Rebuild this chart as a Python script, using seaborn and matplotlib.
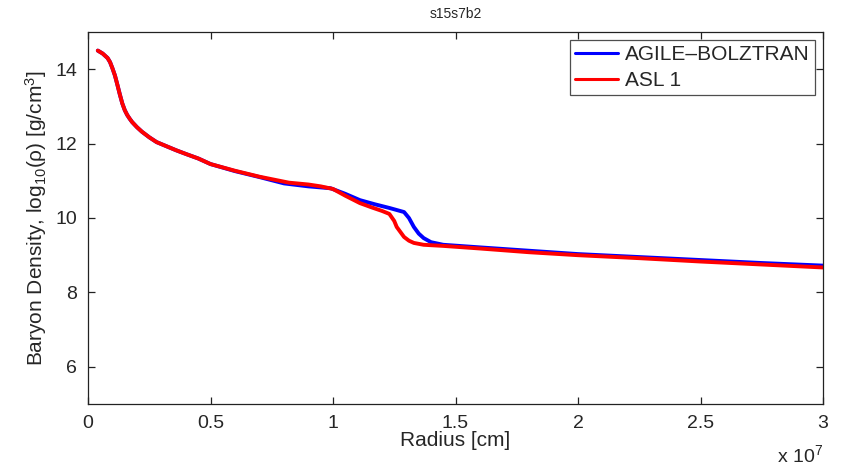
import matplotlib
matplotlib.use("Agg")
import matplotlib.pyplot as plt
import matplotlib.ticker as mticker
import seaborn as sns
import numpy as np

# Radius in units of 1e7 cm, log10 baryon density in g/cm^3
agile_r = [0.04, 0.06, 0.08, 0.09, 0.10, 0.11, 0.12, 0.13, 0.14, 0.15, 0.16, 0.17, 0.18,
           0.20, 0.22, 0.25, 0.28, 0.32, 0.36, 0.40, 0.45, 0.50, 0.60, 0.70, 0.80, 0.90,
           0.99, 1.05, 1.11, 1.17, 1.23, 1.29, 1.31, 1.33, 1.35, 1.37, 1.40, 1.45, 1.60,
           1.80, 2.00, 2.25, 2.50, 2.75, 3.00]
agile_rho = [14.50, 14.42, 14.30, 14.19, 14.02, 13.83, 13.58, 13.32, 13.08, 12.90, 12.77, 12.67, 12.58,
             12.44, 12.32, 12.17, 12.04, 11.93, 11.82, 11.72, 11.60, 11.45, 11.26, 11.10, 10.93, 10.85,
             10.80, 10.65, 10.48, 10.37, 10.27, 10.16, 10.00, 9.76, 9.58, 9.46, 9.35, 9.28, 9.21,
             9.12, 9.03, 8.95, 8.87, 8.79, 8.72]

asl_r = [0.04, 0.06, 0.08, 0.09, 0.10, 0.11, 0.12, 0.13, 0.14, 0.15, 0.16, 0.17, 0.18,
         0.20, 0.22, 0.25, 0.28, 0.32, 0.36, 0.40, 0.45, 0.50, 0.60, 0.70, 0.82, 0.90,
         0.95, 1.00, 1.05, 1.11, 1.16, 1.20, 1.23, 1.25, 1.26, 1.29, 1.31, 1.33, 1.37,
         1.45, 1.60, 1.80, 2.00, 2.25, 2.50, 2.75, 3.00]
asl_rho = [14.50, 14.42, 14.30, 14.19, 14.02, 13.83, 13.58, 13.32, 13.08, 12.90, 12.77, 12.67, 12.58,
           12.44, 12.32, 12.17, 12.04, 11.93, 11.82, 11.72, 11.60, 11.45, 11.27, 11.11, 10.95, 10.90,
           10.85, 10.78, 10.60, 10.40, 10.28, 10.19, 10.11, 9.92, 9.76, 9.49, 9.39, 9.33, 9.28,
           9.25, 9.18, 9.08, 9.00, 8.92, 8.83, 8.75, 8.67]

x_ticks = [0, 0.5, 1, 1.5, 2, 2.5, 3]
y_ticks = [6, 8, 10, 12, 14]

sns.set_style("ticks")
plt.rcParams["font.family"] = ["Liberation Sans", "DejaVu Sans"]
plt.rcParams["mathtext.fontset"] = "custom"
plt.rcParams["mathtext.rm"] = "Liberation Sans"
plt.rcParams["mathtext.it"] = "Liberation Sans:italic"

fig = plt.figure(figsize=(8.41, 4.66), dpi=100)
ax = fig.add_axes([88 / 841, 1 - 404 / 466, (823 - 88) / 841, (404 - 32) / 466])

scale = 1e7
sns.lineplot(x=np.array(agile_r) * scale, y=agile_rho, ax=ax, color="#0000ff",
             linewidth=2.8, label="AGILE\u2013BOLZTRAN", sort=False)
sns.lineplot(x=np.array(asl_r) * scale, y=asl_rho, ax=ax, color="#ff0000",
             linewidth=2.8, label="ASL 1", sort=False)

ax.set_xlim(0, 3e7)
ax.set_ylim(5, 15)
ax.set_xticks([t * scale for t in x_ticks])
ax.xaxis.set_major_formatter(mticker.FuncFormatter(lambda v, p: f"{v / scale:g}"))
ax.set_yticks(y_ticks)

for s in ax.spines.values():
    s.set_visible(True)
    s.set_linewidth(0.9)
    s.set_color("#222222")
ax.tick_params(direction="in", length=5, width=0.9, color="#222222",
               top=True, right=True, labelsize=14, pad=8)

ax.set_xlabel("Radius [cm]", fontsize=15, labelpad=-1)
ax.set_ylabel("Baryon Density, log$_{10}$(\u03c1) [g/cm$^3$]", fontsize=15, labelpad=4)
ax.set_title("s15s7b2", fontsize=10, pad=10)
ax.text(1.0, (404 - 462) / 372, "x 10$^7$", transform=ax.transAxes,
        ha="right", va="baseline", fontsize=14)

leg = ax.legend(loc="upper right", fontsize=15, handlelength=2.05, handletextpad=0.35,
                borderpad=0.25, labelspacing=0.33, fancybox=False, frameon=True,
                borderaxespad=0.38)
leg.get_frame().set_edgecolor("#222222")
leg.get_frame().set_linewidth(0.9)
for line in leg.get_lines():
    line.set_linewidth(2.2)

fig.savefig("out.png", dpi=100)
